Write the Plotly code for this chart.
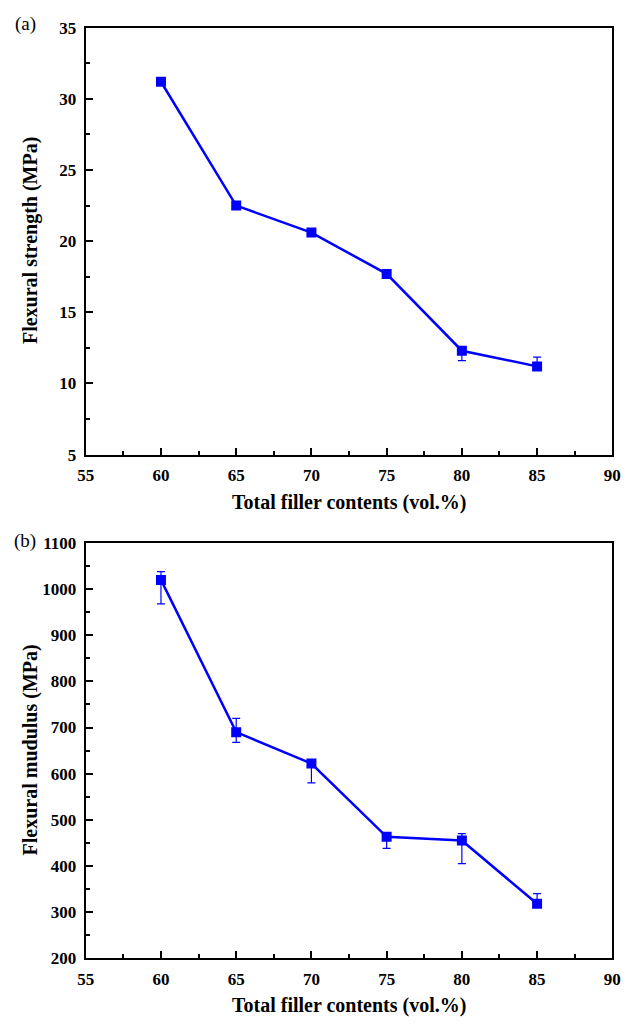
import plotly.graph_objects as go

filler = [60, 65, 70, 75, 80, 85]

strength = [31.2, 22.5, 20.6, 17.7, 12.3, 11.2]
strength_err_plus = [0.0, 0.0, 0.0, 0.0, 0.2, 0.65]
strength_err_minus = [0.0, 0.0, 0.0, 0.0, 0.7, 0.1]

modulus = [1020, 690, 622, 463, 455, 318]
modulus_err_plus = [18, 30, 5, 2, 15, 22]
modulus_err_minus = [52, 22, 42, 25, 50, 5]

x_ticks = [55, 60, 65, 70, 75, 80, 85, 90]
y1_ticks = [5, 10, 15, 20, 25, 30, 35]
y2_ticks = [200, 300, 400, 500, 600, 700, 800, 900, 1000, 1100]

W, H = 632, 1032
BLUE = "#0000FF"
FONT = "Liberation Serif, Times New Roman, serif"

fig = go.Figure()

fig.add_trace(go.Scatter(
    x=filler, y=strength, mode="lines+markers",
    line=dict(color=BLUE, width=2.5),
    marker=dict(symbol="square", size=10, color=BLUE),
    error_y=dict(type="data", symmetric=False, array=strength_err_plus,
                 arrayminus=strength_err_minus, color=BLUE, thickness=1.2, width=4),
    xaxis="x", yaxis="y", showlegend=False))

fig.add_trace(go.Scatter(
    x=filler, y=modulus, mode="lines+markers",
    line=dict(color=BLUE, width=2.5),
    marker=dict(symbol="square", size=10, color=BLUE),
    error_y=dict(type="data", symmetric=False, array=modulus_err_plus,
                 arrayminus=modulus_err_minus, color=BLUE, thickness=1.2, width=4),
    xaxis="x2", yaxis="y2", showlegend=False))

x0, x1 = 79 / W, 621 / W
top_dom = [1 - 454 / H, 1 - 19 / H]
bot_dom = [1 - 967 / H, 1 - 544 / H]

tickfont = dict(family=FONT, size=17, color="black")


def bold(vals):
    return [f"<b>{v}</b>" for v in vals]


common = dict(showline=True, linecolor="black", linewidth=2, mirror=True,
              ticks="inside", ticklen=7, tickwidth=2, tickcolor="black",
              showgrid=False, zeroline=False, tickfont=tickfont,
              ticklabelstandoff=4)

fig.update_layout(
    width=W, height=H,
    margin=dict(l=0, r=0, t=0, b=0),
    paper_bgcolor="white", plot_bgcolor="white",
    font=dict(family=FONT),
    xaxis=dict(domain=[x0, x1], range=[55, 90], tickvals=x_ticks, ticktext=bold(x_ticks), anchor="y",
               minor=dict(ticks="inside", ticklen=4, tickwidth=1.5, dtick=2.5, tick0=55, tickcolor="black"),
               **common),
    yaxis=dict(domain=top_dom, range=[5, 35], tickvals=y1_ticks, ticktext=bold(y1_ticks), anchor="x",
               minor=dict(ticks="inside", ticklen=4, tickwidth=1.5, dtick=2.5, tick0=5, tickcolor="black"),
               **common),
    xaxis2=dict(domain=[x0, x1], range=[55, 90], tickvals=x_ticks, ticktext=bold(x_ticks), anchor="y2",
                minor=dict(ticks="inside", ticklen=4, tickwidth=1.5, dtick=2.5, tick0=55, tickcolor="black"),
                **common),
    yaxis2=dict(domain=bot_dom, range=[200, 1100], tickvals=y2_ticks, ticktext=bold(y2_ticks), anchor="x2",
                minor=dict(ticks="inside", ticklen=4, tickwidth=1.5, dtick=50, tick0=200, tickcolor="black"),
                **common),
)

title_font = dict(family=FONT, size=20, color="black")
label_font = dict(family=FONT, size=19, color="black")

ann = [
    dict(text="(a)", x=17 / W, y=1 - 15 / H, xanchor="center", yanchor="middle", font=label_font),
    dict(text="(b)", x=16 / W, y=1 - 542 / H, xanchor="center", yanchor="middle", font=label_font),
    dict(text="<b>Total filler contents (vol.%)</b>", x=350 / W, y=1 - 503 / H,
         xanchor="center", yanchor="middle", font=title_font),
    dict(text="<b>Total filler contents (vol.%)</b>", x=350 / W, y=1 - 1015 / H,
         xanchor="center", yanchor="middle", font=title_font),
    dict(text="<b>Flexural strength (MPa)</b>", x=22 / W, y=1 - 236 / H, textangle=-90,
         xanchor="center", yanchor="middle", font=title_font),
    dict(text="<b>Flexural mudulus (MPa)</b>", x=22 / W, y=1 - 755 / H, textangle=-90,
         xanchor="center", yanchor="middle", font=title_font),
]
for a in ann:
    fig.add_annotation(xref="paper", yref="paper", showarrow=False, **a)

fig.write_html("out.html")
